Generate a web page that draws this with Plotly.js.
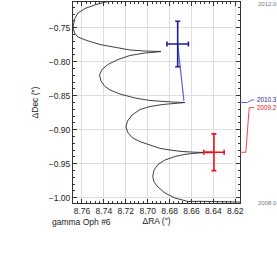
<!DOCTYPE html>
<html>
<head>
<meta charset="utf-8">
<script src="https://cdn.plot.ly/plotly-3.0.1.min.js"></script>
<style>html,body{margin:0;padding:0;background:#fff;}#chart{width:277px;height:269px;}</style>
</head>
<body>
<div id="chart"></div>
<script>
// Apparent path (parallax + proper motion)
var pathRA = [8.7207, 8.7363, 8.7472, 8.7573, 8.7637, 8.7668, 8.7682, 8.7668, 8.7637, 8.7557,
  8.7436, 8.7299, 8.7162, 8.7025, 8.6933, 8.6879, 8.6933, 8.7025, 8.7162, 8.7271,
  8.7363, 8.7417, 8.7440, 8.7426, 8.7395, 8.7344, 8.7253, 8.7116, 8.6979, 8.6842,
  8.6742, 8.6659, 8.6742, 8.6860, 8.6979, 8.7070, 8.7143, 8.7184, 8.7198, 8.7184,
  8.7143, 8.7070, 8.6979, 8.6888, 8.6796, 8.6687, 8.6568, 8.6477, 8.6568, 8.6659,
  8.6751, 8.6842, 8.6906, 8.6942, 8.6954, 8.6942, 8.6906, 8.6842, 8.6751, 8.6632,
  8.6522, 8.6385, 8.6111];
var pathDec = [-0.7034, -0.7115, -0.7159, -0.7218, -0.7284, -0.7372, -0.7497, -0.7578, -0.7637, -0.7688,
  -0.7747, -0.7791, -0.7828, -0.7843, -0.7846, -0.7850, -0.7860, -0.7872, -0.7909, -0.7968,
  -0.8041, -0.8115, -0.8196, -0.8284, -0.8357, -0.8416, -0.8475, -0.8534, -0.8571, -0.8590,
  -0.8596, -0.8600, -0.8612, -0.8629, -0.8659, -0.8703, -0.8784, -0.8872, -0.8953, -0.9034,
  -0.9115, -0.9176, -0.9225, -0.9274, -0.9299, -0.9321, -0.9331, -0.9335, -0.9347, -0.9362,
  -0.9394, -0.9446, -0.9512, -0.9593, -0.9688, -0.9769, -0.9843, -0.9931, -1.0004, -1.0056,
  -1.0053, -1.0060, -1.0066];

// Observations
var epochs   = ["2009.2", "2010.3"];
var obsRA    = [8.6395, 8.6726];
var obsDec   = [-0.9332, -0.7740];
var errRA    = [0.0093, 0.0098];
var errDec   = [0.0270, 0.0335];
var modelRA  = [8.6477, 8.6669];   // predicted position on the path at each epoch
var modelDec = [-0.9335, -0.8578];
var obsColors = ["#e8121c", "#1c1ca0"];
var leadColors = ["#f04848", "#6060d0"];
var labelDec = [-0.8676, -0.8563];

var startEpoch = "2008.0", endEpoch = "2012.0";
var xTitle = "ΔRA (″)", yTitle = "ΔDec (″)", starName = "gamma Oph #6";

var traces = [{
  x: pathRA, y: pathDec, mode: "lines", type: "scatter",
  line: {color: "#2a2a2a", width: 0.9}, hoverinfo: "skip"
}];
for (var i = 0; i < epochs.length; i++) {
  traces.push({
    x: [obsRA[i], modelRA[i]], y: [obsDec[i], modelDec[i]], mode: "lines", type: "scatter",
    line: {color: leadColors[i], width: i === 0 ? 2 : 1.2}, hoverinfo: "skip"
  });
  traces.push({
    x: [obsRA[i]], y: [obsDec[i]], mode: "markers", type: "scatter",
    marker: {size: 1, color: obsColors[i]},
    error_x: {type: "data", array: [errRA[i]], color: obsColors[i], thickness: 1.6, width: 2.5},
    error_y: {type: "data", array: [errDec[i]], color: obsColors[i], thickness: 1.6, width: 2.5},
    hoverinfo: "skip"
  });
}

var shapes = [];
var annotations = [];
// leader lines to epoch labels
var leadPts = [[1.0, 1.035, 1.055, 1.085], [1.0, 1.045, 1.07, 1.085]];
for (var i = 0; i < epochs.length; i++) {
  var p = leadPts[i];
  var startY = (i === 0) ? obsDec[i] : modelDec[i] - 0.0022;
  shapes.push({type: "path", xref: "paper", yref: "y",
    path: "M" + p[0] + "," + startY + " L" + p[1] + "," + startY + " L" + p[2] + "," + labelDec[i] + " L" + p[3] + "," + labelDec[i],
    line: {color: leadColors[i], width: 1}});
  annotations.push({xref: "paper", yref: "y", x: 1.092, y: labelDec[i], xanchor: "left", yanchor: "middle",
    text: epochs[i], showarrow: false, font: {family: "Liberation Sans, Arial, sans-serif", size: 6.3, color: obsColors[i]}});
}
annotations.push({xref: "paper", yref: "paper", x: 1.095, y: 0.992, xanchor: "left", yanchor: "middle",
  text: endEpoch, showarrow: false, font: {family: "Liberation Sans, Arial, sans-serif", size: 6, color: "#777"}});
annotations.push({xref: "paper", yref: "paper", x: 1.095, y: 0.0, xanchor: "left", yanchor: "middle",
  text: startEpoch, showarrow: false, font: {family: "Liberation Sans, Arial, sans-serif", size: 6, color: "#777"}});
annotations.push({xref: "paper", yref: "paper", x: -0.138, y: -0.094, xanchor: "left", yanchor: "middle",
  text: starName, showarrow: false, font: {family: "Liberation Sans, Arial, sans-serif", size: 8.5, color: "#222"}});

var axFont = {family: "Liberation Sans, Arial, sans-serif", size: 8.5, color: "#222"};
var layout = {
  width: 277, height: 269,
  margin: {l: 73, r: 37, t: 2, b: 66},
  paper_bgcolor: "#fff", plot_bgcolor: "#fff",
  showlegend: false,
  font: axFont,
  xaxis: {
    range: [8.7682, 8.6157], autorange: false, dtick: 0.02, tick0: 8.62, tickformat: ".2f",
    ticks: "inside", ticklen: 4, tickcolor: "#333", tickwidth: 1,
    showline: true, linecolor: "#333", linewidth: 1, mirror: "allticks",
    showgrid: true, gridcolor: "#dedede", gridwidth: 1, zeroline: false,
    minor: {dtick: 0.004, ticks: "inside", ticklen: 2, tickcolor: "#333", showgrid: false},
    tickfont: axFont,
    title: {text: xTitle, font: axFont, standoff: 2}
  },
  yaxis: {
    range: [-1.0078, -0.7122], autorange: false, dtick: 0.05, tick0: -1.0, tickformat: ".2f",
    ticks: "inside", ticklen: 4, tickcolor: "#333", tickwidth: 1,
    showline: true, linecolor: "#333", linewidth: 1, mirror: "allticks",
    showgrid: true, gridcolor: "#dedede", gridwidth: 1, zeroline: false,
    minor: {dtick: 0.01, ticks: "inside", ticklen: 2, tickcolor: "#333", showgrid: false},
    tickfont: axFont,
    title: {text: yTitle, font: axFont, standoff: 8}
  },
  shapes: shapes,
  annotations: annotations
};
Plotly.newPlot("chart", traces, layout, {staticPlot: true, displayModeBar: false});
</script>
</body>
</html>
